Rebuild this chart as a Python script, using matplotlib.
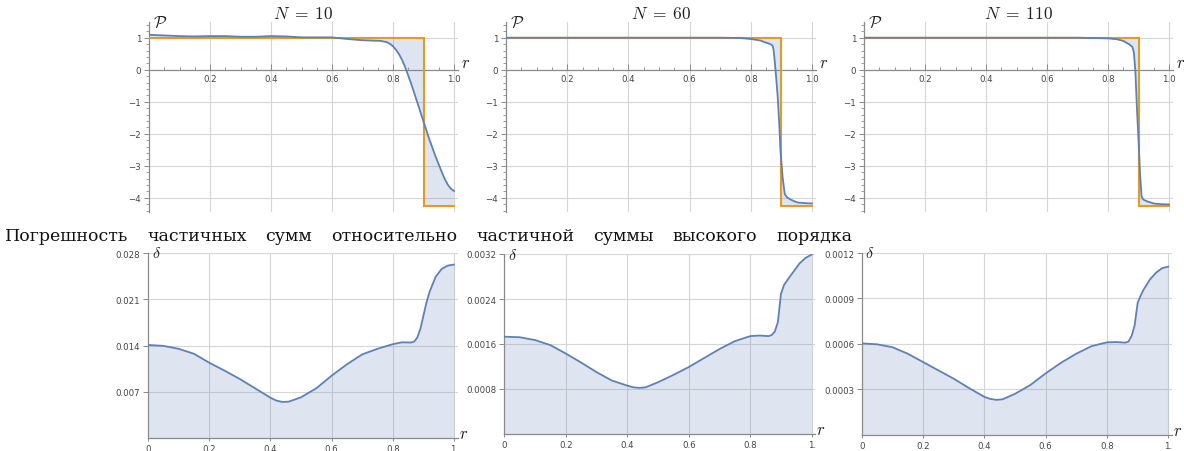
import numpy as np
import matplotlib
matplotlib.use("Agg")
import matplotlib.pyplot as plt
from matplotlib.ticker import MultipleLocator, FixedLocator

plt.rcParams['mathtext.fontset'] = 'cm'

# ---------------- data ----------------
titles = [r"$N\;=\;10$", r"$N\;=\;60$", r"$N\;=\;110$"]

step_r = [0.0, 0.9, 0.9, 1.0]
step_P = [1.0, 1.0, -4.27, -4.27]

r10 = [0.00, 0.05, 0.10, 0.15, 0.20, 0.25, 0.30, 0.35, 0.40, 0.45, 0.50, 0.55,
       0.60, 0.65, 0.70, 0.73, 0.76, 0.78, 0.79, 0.80, 0.81, 0.82, 0.83, 0.84,
       0.86, 0.88, 0.90, 0.92, 0.94, 0.96, 0.97, 0.98, 0.99, 1.00]
P10 = [1.09, 1.07, 1.05, 1.04, 1.05, 1.05, 1.03, 1.03, 1.05, 1.04, 1.01, 1.01,
       1.01, 0.96, 0.92, 0.91, 0.90, 0.86, 0.81, 0.73, 0.62, 0.48, 0.30, 0.08,
       -0.45, -1.03, -1.62, -2.20, -2.72, -3.20, -3.42, -3.60, -3.72, -3.79]

r60 = [0.00, 0.20, 0.40, 0.60, 0.70, 0.766, 0.80, 0.832, 0.848, 0.864, 0.871,
       0.874, 0.877, 0.882, 0.888, 0.893, 0.897, 0.904, 0.911, 0.919, 0.927,
       0.937, 0.953, 0.98, 1.00]
P60 = [1.00, 1.00, 1.00, 1.00, 1.00, 0.99, 0.96, 0.91, 0.85, 0.80, 0.75,
       0.65, 0.39, -0.14, -0.86, -1.70, -2.53, -3.36, -3.89, -3.99, -4.04,
       -4.09, -4.15, -4.17, -4.18]

r110 = [0.00, 0.20, 0.40, 0.60, 0.70, 0.75, 0.80, 0.83, 0.85, 0.87, 0.88,
        0.885, 0.89, 0.895, 0.90, 0.905, 0.91, 0.915, 0.92, 0.93, 0.95,
        0.97, 1.00]
P110 = [1.00, 1.00, 1.00, 1.00, 1.00, 0.99, 0.98, 0.95, 0.90, 0.79, 0.71,
        0.53, -0.09, -1.24, -2.18, -3.22, -3.95, -4.05, -4.08, -4.12, -4.18,
        -4.20, -4.21]

top_r = [r10, r60, r110]
top_P = [P10, P60, P110]

rd = [0.00, 0.05, 0.10, 0.15, 0.20, 0.25, 0.30, 0.35, 0.40, 0.42, 0.44, 0.46,
      0.50, 0.55, 0.60, 0.65, 0.70, 0.75, 0.80, 0.83, 0.86, 0.87, 0.88, 0.89,
      0.90, 0.91, 0.92, 0.94, 0.96, 0.98, 1.00]
d10 = [0.01408, 0.01395, 0.01350, 0.01275, 0.01140, 0.01020, 0.00893, 0.00752,
       0.00610, 0.00565, 0.00545, 0.00550, 0.00616, 0.00752, 0.00943, 0.01115,
       0.01265, 0.01350, 0.01420, 0.01448, 0.01445, 0.01460, 0.01520, 0.01650,
       0.01850, 0.02050, 0.02210, 0.02440, 0.02560, 0.02610, 0.02625]
d60 = [0.00173, 0.00172, 0.00167, 0.00158, 0.00143, 0.00127, 0.00110, 0.00095,
       0.00086, 0.00083, 0.00082, 0.00083, 0.00092, 0.00105, 0.00119, 0.00135,
       0.00151, 0.00165, 0.00174, 0.00175, 0.00174, 0.00176, 0.00182, 0.00199,
       0.00249, 0.00265, 0.00273, 0.00288, 0.00303, 0.00313, 0.00319]
d110 = [0.000603, 0.000597, 0.000578, 0.000535, 0.000480, 0.000425, 0.000370,
        0.000308, 0.000250, 0.000236, 0.000230, 0.000234, 0.000270, 0.000328,
        0.000405, 0.000475, 0.000535, 0.000585, 0.000610, 0.000612, 0.000608,
        0.000615, 0.000650, 0.000720, 0.000870, 0.000920, 0.000960, 0.001025,
        0.001070, 0.001100, 0.001110]
bottom_d = [d10, d60, d110]

d_ticks = [[0.007, 0.014, 0.021, 0.028],
           [0.0008, 0.0016, 0.0024, 0.0032],
           [0.0003, 0.0006, 0.0009, 0.0012]]
d_ticklabels = [["0.007", "0.014", "0.021", "0.028"],
                ["0.0008", "0.0016", "0.0024", "0.0032"],
                ["0.0003", "0.0006", "0.0009", "0.0012"]]

top_xticks = [0.2, 0.4, 0.6, 0.8, 1.0]
top_xticklabels = ["0.2", "0.4", "0.6", "0.8", "1.0"]
top_yticks = [1, 0, -1, -2, -3, -4]
top_yticklabels = ["1", "0", "\u22121", "\u22122", "\u22123", "\u22124"]
bot_xticks = [0, 0.2, 0.4, 0.6, 0.8, 1.0]
bot_xticklabels = ["0", "0.2", "0.4", "0.6", "0.8", "1."]

caption_words = ["Погрешность", "частичных", "сумм", "относительно",
                 "частичной", "суммы", "высокого", "порядка"]

# ---------------- style ----------------
W, H = 1184, 452
BLUE = '#5e81b5'
ORANGE = '#e19c24'
AXC = '#8a8a8a'
GRIDC = '#d6d6d6'
TXT = '#444444'

fig = plt.figure(figsize=(W / 100, H / 100), dpi=100)

def px_axes(x0, x1, y_top, y_bot, xmax_frac=1.013):
    width = (x1 - x0) * xmax_frac
    return fig.add_axes([x0 / W, 1 - y_bot / H, width / W, (y_bot - y_top) / H])

def base_style(ax):
    for s in ['top', 'right']:
        ax.spines[s].set_visible(False)
    for s in ['left', 'bottom']:
        ax.spines[s].set_color(AXC)
        ax.spines[s].set_linewidth(0.9)
    ax.tick_params(colors=AXC, labelcolor=TXT, labelsize=6.2, width=0.7)
    ax.set_axisbelow(True)
    ax.patch.set_alpha(0)

top_pos = [(149, 454), (506, 812), (864, 1169)]
for i in range(3):
    x0, x1 = top_pos[i]
    ax = px_axes(x0, x1, 22.7, 213.1)
    base_style(ax)
    ax.set_xlim(0, 1.013)
    ax.set_ylim(-4.45, 1.5)
    ax.spines['left'].set_position(('data', 0))
    ax.spines['bottom'].set_position(('data', 0))
    for gx in top_xticks:
        ax.axvline(gx, color=GRIDC, lw=0.8, zorder=0)
    for gy in [1, -1, -2, -3, -4]:
        ax.axhline(gy, color=GRIDC, lw=0.8, zorder=0)
    rr = np.asarray(top_r[i]); pp = np.asarray(top_P[i])
    poly_x = np.concatenate([rr, np.asarray(step_r)[::-1]])
    poly_y = np.concatenate([pp, np.asarray(step_P)[::-1]])
    ax.fill(poly_x, poly_y, color=BLUE, alpha=0.2, lw=0, zorder=1)
    ax.plot(step_r, step_P, color=ORANGE, lw=1.5, zorder=3, solid_joinstyle='miter')
    ax.plot(rr, pp, color=BLUE, lw=1.3, zorder=4)
    ax.xaxis.set_major_locator(FixedLocator(top_xticks))
    ax.set_xticklabels(top_xticklabels)
    ax.xaxis.set_minor_locator(MultipleLocator(0.05))
    ax.yaxis.set_major_locator(FixedLocator(top_yticks))
    ax.set_yticklabels(top_yticklabels)
    ax.yaxis.set_minor_locator(MultipleLocator(0.2))
    ax.tick_params(axis='x', which='major', direction='in', length=4, pad=3)
    ax.tick_params(axis='x', which='minor', direction='in', length=2.2, colors=AXC)
    ax.tick_params(axis='y', which='major', direction='out', length=3.5, pad=2)
    ax.tick_params(axis='y', which='minor', direction='out', length=2, colors=AXC)
    ax.text(0.5, 1.0, titles[i], transform=ax.transAxes, ha='center',
            va='bottom', fontsize=12.5, color='#222222')
    ax.text(0.012, 1.5, r'$\mathcal{P}$', ha='left', va='center',
            fontsize=12, color='#222222', clip_on=False)
    ax.text(1.022, 0.07, '$r$', ha='left', va='baseline', fontsize=12,
            color='#222222', clip_on=False)

bot_pos = [(148, 454, 254, 439), (504.3, 811.7, 255, 435), (861.7, 1168.3, 254, 435.7)]
for i in range(3):
    x0, x1, yt, yb = bot_pos[i]
    ax = px_axes(x0, x1, yt, yb, 1.012)
    base_style(ax)
    ax.set_xlim(0, 1.012)
    ymax = d_ticks[i][-1]
    ax.set_ylim(0, ymax)
    for gx in bot_xticks[1:]:
        ax.axvline(gx, color=GRIDC, lw=0.8, zorder=0)
    for gy in d_ticks[i]:
        ax.axhline(gy, color=GRIDC, lw=0.8, zorder=0)
    ax.fill_between(rd, 0, bottom_d[i], color=BLUE, alpha=0.2, lw=0, zorder=1)
    ax.plot(rd, bottom_d[i], color=BLUE, lw=1.3, zorder=4)
    ax.xaxis.set_major_locator(FixedLocator(bot_xticks))
    ax.set_xticklabels(bot_xticklabels)
    ax.yaxis.set_major_locator(FixedLocator(d_ticks[i]))
    ax.set_yticklabels(d_ticklabels[i])
    ax.tick_params(axis='x', which='major', direction='out', length=2.5, pad=2)
    ax.tick_params(axis='y', which='major', direction='out', length=3.5, pad=2)
    ax.text(0.012, ymax, r'$\delta$', ha='left', va='center',
            fontsize=11.5, color='#222222', clip_on=False)
    ax.text(1.015, 0.0, '$r$', ha='left', va='baseline', fontsize=12,
            color='#222222', clip_on=False)

# justified caption line
cap_texts = [fig.text(0, 1 - 241 / H, w, ha='left', va='baseline',
                      fontsize=12.5, family='DejaVu Serif', color='#111111')
             for w in caption_words]
fig.canvas.draw()
renderer = fig.canvas.get_renderer()
widths = [t.get_window_extent(renderer).width for t in cap_texts]
start_px, end_px = 5.0, 852.0
gap = (end_px - start_px - sum(widths)) / (len(widths) - 1)
xpos = start_px
for t, wdt in zip(cap_texts, widths):
    t.set_x(xpos / W)
    xpos += wdt + gap

fig.savefig('out.png', dpi=100)
